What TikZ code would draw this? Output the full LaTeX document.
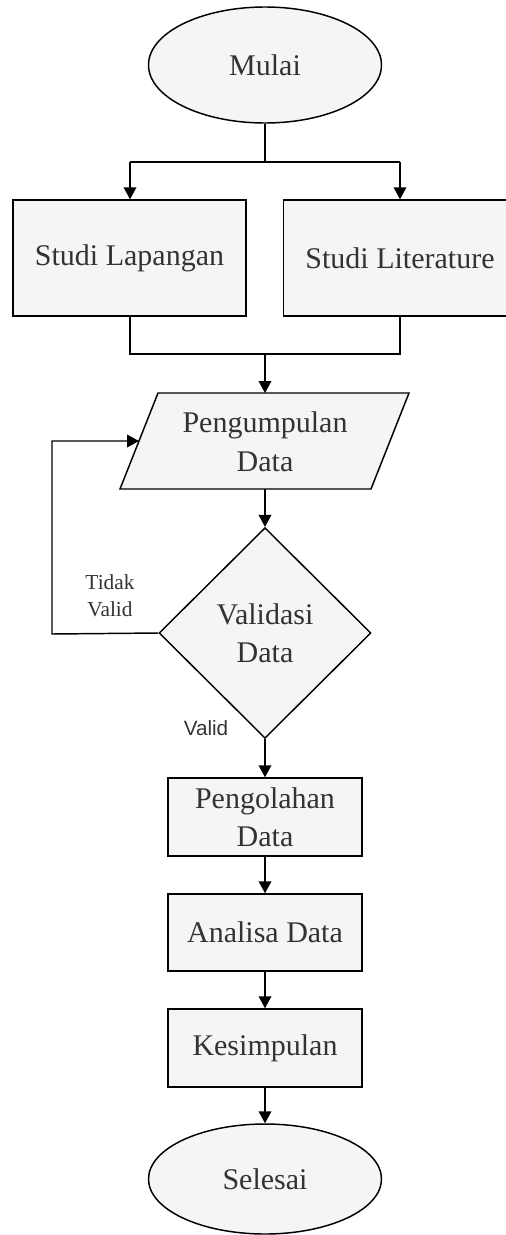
\documentclass[tikz,border=0pt]{standalone}
\usepackage{fontspec}
\setmainfont{Liberation Serif}
\newfontfamily\lsans{Liberation Sans}
\usetikzlibrary{shapes.geometric,arrows.meta}
\definecolor{boxfill}{HTML}{F5F5F5}
\definecolor{txt}{HTML}{333333}
\tikzset{
  base/.style={draw=black, line width=1.1pt, fill=boxfill, text=txt, align=center, inner sep=0pt,
    font=\fontsize{22.5}{28.5}\selectfont},
  terminal/.style={base, ellipse, minimum width=174.75pt, minimum height=87pt},
  procbox/.style={base, rectangle},
  decision/.style={base, diamond, aspect=1, minimum width=159pt, minimum height=158pt},
  conn/.style={draw=black, line width=1.1pt, -{Triangle[width=9.5pt,length=9pt]}},
  plain/.style={draw=black, line width=1.1pt},
  lbl/.style={text=txt, align=center, inner sep=0pt}
}
\begin{document}
\begin{tikzpicture}[x=0.75pt,y=-0.75pt]
\useasboundingbox (0,0) rectangle (506,1235);
\node[terminal] (mulai) at (265,65) {Mulai};
\node[procbox, minimum width=174.75pt, minimum height=87pt] (lap) at (129.5,258) {Studi Lapangan};
\node[procbox, minimum width=174.75pt, minimum height=87pt] (lit) at (400,258) {Studi Literature};
% parallelogram
\coordinate (pTL) at (158,393);
\coordinate (pTR) at (409,393);
\coordinate (pBR) at (371,489);
\coordinate (pBL) at (120,489);
\filldraw[base] (pTL) -- (pTR) -- (pBR) -- (pBL) -- cycle;
\node[lbl, font=\fontsize{22.5}{29.25}\selectfont] (pd) at (265,442) {Pengumpulan\\Data};
\coordinate (pdN) at (265,393);
\coordinate (pdS) at (265,489);
\coordinate (pdW) at (139,441);
\node[decision] (val) at (265,633) {Validasi\\Data};
\node[procbox, minimum width=145.5pt, minimum height=58.5pt] (olah) at (265,817) {Pengolahan\\Data};
\node[procbox, minimum width=145.5pt, minimum height=57.75pt] (anal) at (265,932.5) {Analisa Data};
\node[procbox, minimum width=145.5pt, minimum height=58.5pt] (kes) at (265,1048) {Kesimpulan};
\node[terminal, minimum height=82.5pt] (sel) at (265,1179) {Selesai};
% junctions
\coordinate (j1) at (265,162);
\coordinate (j1L) at (130,162);
\coordinate (j1R) at (400,162);
\coordinate (j2) at (265,354);
\coordinate (j2L) at (130,354);
\coordinate (j2R) at (400,354);
\coordinate (lpB) at (52,634);
\coordinate (lpT) at (52,441);
% connectors
\draw[plain] (mulai.south) -- (j1);
\draw[plain] (j1L) -- (j1R);
\draw[conn] (j1L) -- (j1L |- lap.north);
\draw[conn] (j1R) -- (j1R |- lit.north);
\draw[plain] (j2L |- lap.south) -- (j2L) -- (j2R) -- (j2R |- lit.south);
\draw[conn] (j2) -- (pdN);
\draw[conn] (pdS) -- (val.north);
\draw[conn] (val.west) -- (lpB) -- (lpT) -- (pdW);
\draw[conn] (val.south) -- (olah.north);
\draw[conn] (olah.south) -- (anal.north);
\draw[conn] (anal.south) -- (kes.north);
\draw[conn] (kes.south) -- (sel.north);
% labels
\node[lbl, font=\fontsize{16}{20.25}\selectfont] (tv) at (110,596) {Tidak\\Valid};
\node[lbl, font=\lsans\fontsize{15.5}{18}\selectfont] (vl) at (206,728) {Valid};
\end{tikzpicture}
\end{document}
